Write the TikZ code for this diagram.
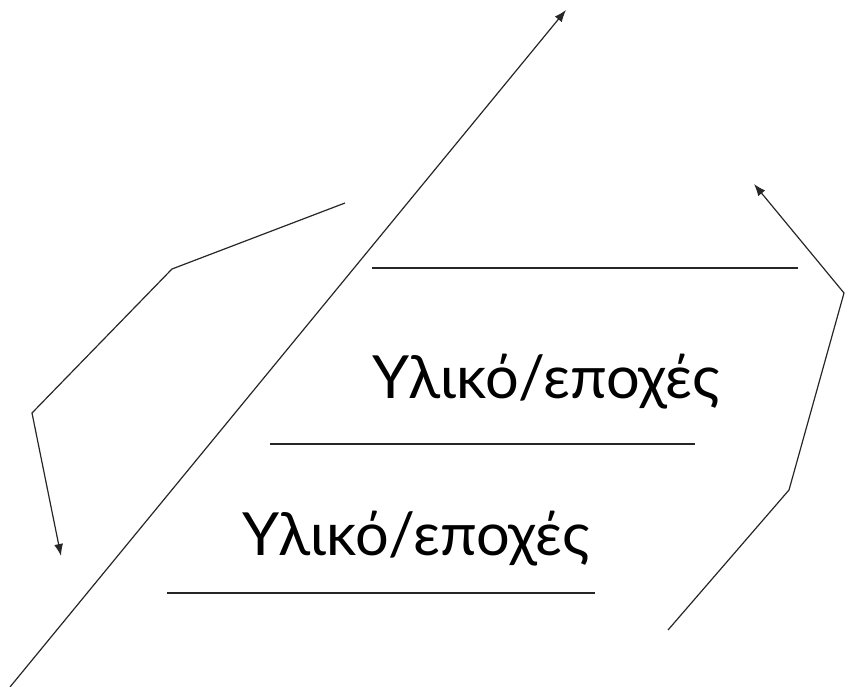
\documentclass[tikz,border=0pt]{standalone}
\usepackage{fontspec}
\setmainfont{Lato}
\usepackage{tikz}
\usetikzlibrary{arrows.meta,positioning}

\begin{document}
\begin{tikzpicture}[
    x=1pt, y=-1pt,
    line/.style={draw, line width=1.2pt, black!85},
    arr/.style={line, -{Latex[length=12pt, width=9pt]}},
    label/.style={font=\fontsize{59.5}{64}\selectfont, inner sep=0pt, anchor=base},
]
\useasboundingbox (0,0) rectangle (852,687);
% long diagonal
\coordinate (diagA) at (10,687);
\coordinate (diagB) at (566,10);
\draw[arr] (diagA) -- (diagB);
% left bent arrow
\coordinate (leftA) at (345,203);
\coordinate (leftB) at (172,269);
\coordinate (leftC) at (32,413);
\coordinate (leftD) at (61,556);
\draw[arr] (leftA) -- (leftB) -- (leftC) -- (leftD);
% right bent arrow
\coordinate (rightA) at (668,630);
\coordinate (rightB) at (789,490);
\coordinate (rightC) at (844,293);
\coordinate (rightD) at (754,184);
\draw[arr] (rightA) -- (rightB) -- (rightC) -- (rightD);
% rules
\coordinate (ruleAl) at (372,268);
\coordinate (ruleAr) at (798,268);
\coordinate (ruleBl) at (270,444);
\coordinate (ruleBr) at (695,444);
\coordinate (ruleCl) at (167,593);
\coordinate (ruleCr) at (595,593);
\draw[line] (ruleAl) -- (ruleAr);
\draw[line] (ruleBl) -- (ruleBr);
\draw[line] (ruleCl) -- (ruleCr);
% labels
\node[label] (matA) at (546,398) {Υλικό/εποχές};
\node[label] (matB) at (416,555) {Υλικό/εποχές};
\end{tikzpicture}
\end{document}
